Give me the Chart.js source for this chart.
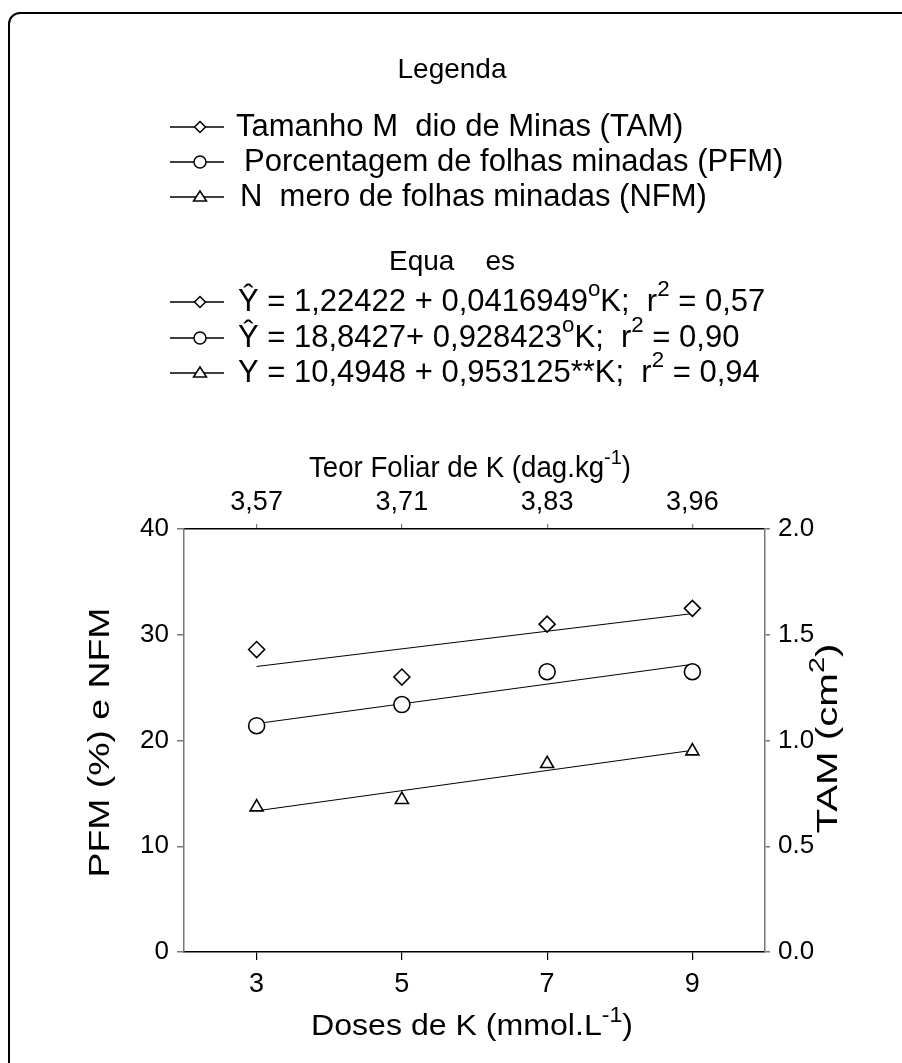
<!DOCTYPE html>
<html>
<head>
<meta charset="utf-8">
<script src="https://cdn.jsdelivr.net/npm/chart.js@4"></script>
<style>
  html, body { margin: 0; padding: 0; background: #fff; }
  #wrap { width: 902px; height: 1063px; position: relative; }
</style>
</head>
<body>
<div id="wrap"><canvas id="myChart" width="902" height="1063"></canvas></div>
<script>
const doses = [3, 5, 7, 9];
const teorLabels = ['3,57', '3,71', '3,83', '3,96'];
const tamValues = [1.43, 1.30, 1.55, 1.625];
const pfmValues = [21.4, 23.4, 26.5, 26.5];
const nfmValues = [13.7, 14.4, 17.8, 19.0];
// fitted lines, read at K = 3 and K = 9
const fitEnds = [3, 9];
const tamFit = [1.35, 1.60];
const pfmFit = [21.6, 27.2];
const nfmFit = [13.35, 19.07];
const leftTicks = [0, 10, 20, 30, 40];
const rightTicks = [0, 0.5, 1.0, 1.5, 2.0];

const FONT = '"Liberation Sans", Arial, Helvetica, sans-serif';
Chart.defaults.font.family = FONT;
Chart.defaults.color = '#000';

function pts(xs, ys) { return xs.map((x, i) => ({ x: x, y: ys[i] })); }

function markerSet(label, ys, style, r, axis) {
  return {
    label: label, data: pts(doses, ys), yAxisID: axis, order: 0,
    pointStyle: style, pointRadius: r, pointHoverRadius: r,
    pointBorderColor: '#000', pointBackgroundColor: '#fff', pointBorderWidth: 1.6,
    showLine: false
  };
}
function fitSet(label, ys, axis) {
  return {
    label: label, type: 'line', data: pts(fitEnds, ys), yAxisID: axis, order: 1,
    borderColor: '#000', borderWidth: 1, pointRadius: 0, fill: false
  };
}

// draws a run of [text, superscript?] pieces starting at x
function drawRuns(c, runs, x, y, size) {
  runs.forEach(r => {
    const s = r[1] ? size * 0.72 : size;
    c.font = s + 'px ' + FONT;
    c.fillText(r[0], x, r[1] ? y - size * 0.38 : y);
    x += c.measureText(r[0]).width;
  });
  return x;
}
function runsWidth(c, runs, size) {
  let w = 0;
  runs.forEach(r => { c.font = (r[1] ? size * 0.72 : size) + 'px ' + FONT; w += c.measureText(r[0]).width; });
  return w;
}
// centred run, stretched along the text to a given length
function drawStretched(c, runs, size, len) {
  const w = runsWidth(c, runs, size);
  c.save();
  c.scale(len / w, 1);
  drawRuns(c, runs, -w / 2, 0, size);
  c.restore();
}
function symbol(c, style, x, y) {
  c.save();
  c.strokeStyle = '#000';
  c.lineWidth = 1.3;
  c.beginPath(); c.moveTo(x - 30, y); c.lineTo(x + 24, y); c.stroke();
  c.lineWidth = 1.5;
  c.fillStyle = '#fff';
  c.beginPath();
  if (style === 'rectRot') {
    c.moveTo(x, y - 5.5); c.lineTo(x + 5.5, y); c.lineTo(x, y + 5.5); c.lineTo(x - 5.5, y); c.closePath();
  } else if (style === 'circle') {
    c.arc(x, y, 6, 0, Math.PI * 2);
  } else {
    c.moveTo(x, y - 6); c.lineTo(x + 6.5, y + 4); c.lineTo(x - 6.5, y + 4); c.closePath();
  }
  c.fill(); c.stroke();
  c.restore();
}

const decor = {
  id: 'decor',
  beforeDraw(chart) {
    const c = chart.ctx;
    c.save();
    c.fillStyle = '#fff';
    c.fillRect(0, 0, chart.width, chart.height);
    c.strokeStyle = '#000';
    c.lineWidth = 2;
    c.beginPath();
    c.moveTo(9, 1070); c.lineTo(9, 24);
    c.arcTo(9, 13, 20, 13, 11);
    c.lineTo(910, 13);
    c.stroke();
    c.restore();
  },
  afterDraw(chart) {
    const c = chart.ctx;
    const a = chart.chartArea;
    const midY = (a.top + a.bottom) / 2;
    c.save();
    c.fillStyle = '#000';
    c.textBaseline = 'middle';

    c.font = '28px ' + FONT;
    c.textAlign = 'center';
    c.fillText('Legenda', 452, 70);
    c.fillText('Equa    es', 452, 262);
    c.textAlign = 'left';

    const L = 31;
    const legend = [
      ['rectRot', 'Tamanho M  dio de Minas (TAM)', 127, 236],
      ['circle', 'Porcentagem de folhas minadas (PFM)', 162, 244],
      ['triangle', 'N  mero de folhas minadas (NFM)', 197, 240]
    ];
    legend.forEach(l => {
      symbol(c, l[0], 200, l[2]);
      c.font = L + 'px ' + FONT;
      c.fillText(l[1], l[3], l[2]);
    });

    const eqs = [
      ['rectRot', 302, [['Ŷ = 1,22422 + 0,0416949', 0], ['o', 1], ['K;  r', 0], ['2', 1], [' = 0,57', 0]]],
      ['circle', 338, [['Ŷ = 18,8427+ 0,928423', 0], ['o', 1], ['K;  r', 0], ['2', 1], [' = 0,90', 0]]],
      ['triangle', 373, [['Y = 10,4948 + 0,953125**K;  r', 0], ['2', 1], [' = 0,94', 0]]]
    ];
    eqs.forEach(e => {
      symbol(c, e[0], 200, e[1]);
      drawRuns(c, e[2], 238, e[1], L);
    });

    // axis titles
    c.save();
    c.translate(470, 469);
    drawStretched(c, [['Teor Foliar de K (dag.kg', 0], ['-1', 1], [')', 0]], 29, 322);
    c.restore();

    c.save();
    c.translate(472, 1027);
    drawStretched(c, [['Doses de K (mmol.L', 0], ['-1', 1], [')', 0]], 30, 322);
    c.restore();

    c.save();
    c.translate(101, midY + 2);
    c.rotate(-Math.PI / 2);
    drawStretched(c, [['PFM (%) e NFM', 0]], 30, 270);
    c.restore();

    c.save();
    c.translate(829, midY - 2);
    c.rotate(-Math.PI / 2);
    drawStretched(c, [['TAM (cm', 0], ['2', 1], [')', 0]], 30, 190);
    c.restore();

    c.restore();
  }
};

const tickFont = { size: 26, family: FONT };

new Chart(document.getElementById('myChart'), {
  type: 'scatter',
  data: {
    datasets: [
      markerSet('TAM', tamValues, 'rectRot', 8, 'y2'),
      markerSet('PFM', pfmValues, 'circle', 8, 'y'),
      markerSet('NFM', nfmValues, 'triangle', 7.5, 'y'),
      fitSet('TAM fit', tamFit, 'y2'),
      fitSet('PFM fit', pfmFit, 'y'),
      fitSet('NFM fit', nfmFit, 'y')
    ]
  },
  options: {
    responsive: false,
    animation: false,
    layout: { padding: 0 },
    plugins: { legend: { display: false }, tooltip: { enabled: false } },
    scales: {
      x: {
        type: 'linear', position: 'bottom', min: 2, max: 10,
        afterBuildTicks: s => { s.ticks = doses.map(v => ({ value: v })); },
        afterFit: s => { s.height = 111; },
        grid: { drawOnChartArea: false, tickLength: 8, color: '#000', lineWidth: 1.2 },
        border: { color: '#000', width: 1.5 },
        ticks: { font: { size: 27, family: FONT }, color: '#000', padding: 8, maxRotation: 0 }
      },
      x2: {
        type: 'linear', position: 'top', min: 2, max: 10,
        afterBuildTicks: s => { s.ticks = doses.map(v => ({ value: v })); },
        afterFit: s => { s.height = 529; },
        grid: { drawOnChartArea: false, tickLength: 5, color: '#777', lineWidth: 1.2 },
        border: { color: '#000', width: 1.5 },
        ticks: { font: { size: 27, family: FONT }, color: '#000', padding: 5, maxRotation: 0,
          callback: v => teorLabels[doses.indexOf(v)] }
      },
      y: {
        position: 'left', min: 0, max: 40,
        afterBuildTicks: s => { s.ticks = leftTicks.map(v => ({ value: v })); },
        afterFit: s => { s.width = 184; },
        grid: { drawOnChartArea: false, tickLength: 7, color: '#777', lineWidth: 1.5 },
        border: { color: '#777', width: 1.5 },
        ticks: { font: tickFont, color: '#000', padding: 8 }
      },
      y2: {
        position: 'right', min: 0, max: 2,
        afterBuildTicks: s => { s.ticks = rightTicks.map(v => ({ value: v })); },
        afterFit: s => { s.width = 137; },
        grid: { drawOnChartArea: false, tickLength: 5, color: '#777', lineWidth: 1.5 },
        border: { color: '#777', width: 1.5 },
        ticks: { font: tickFont, color: '#000', padding: 8, callback: v => v.toFixed(1) }
      }
    }
  },
  plugins: [decor]
});
</script>
</body>
</html>
